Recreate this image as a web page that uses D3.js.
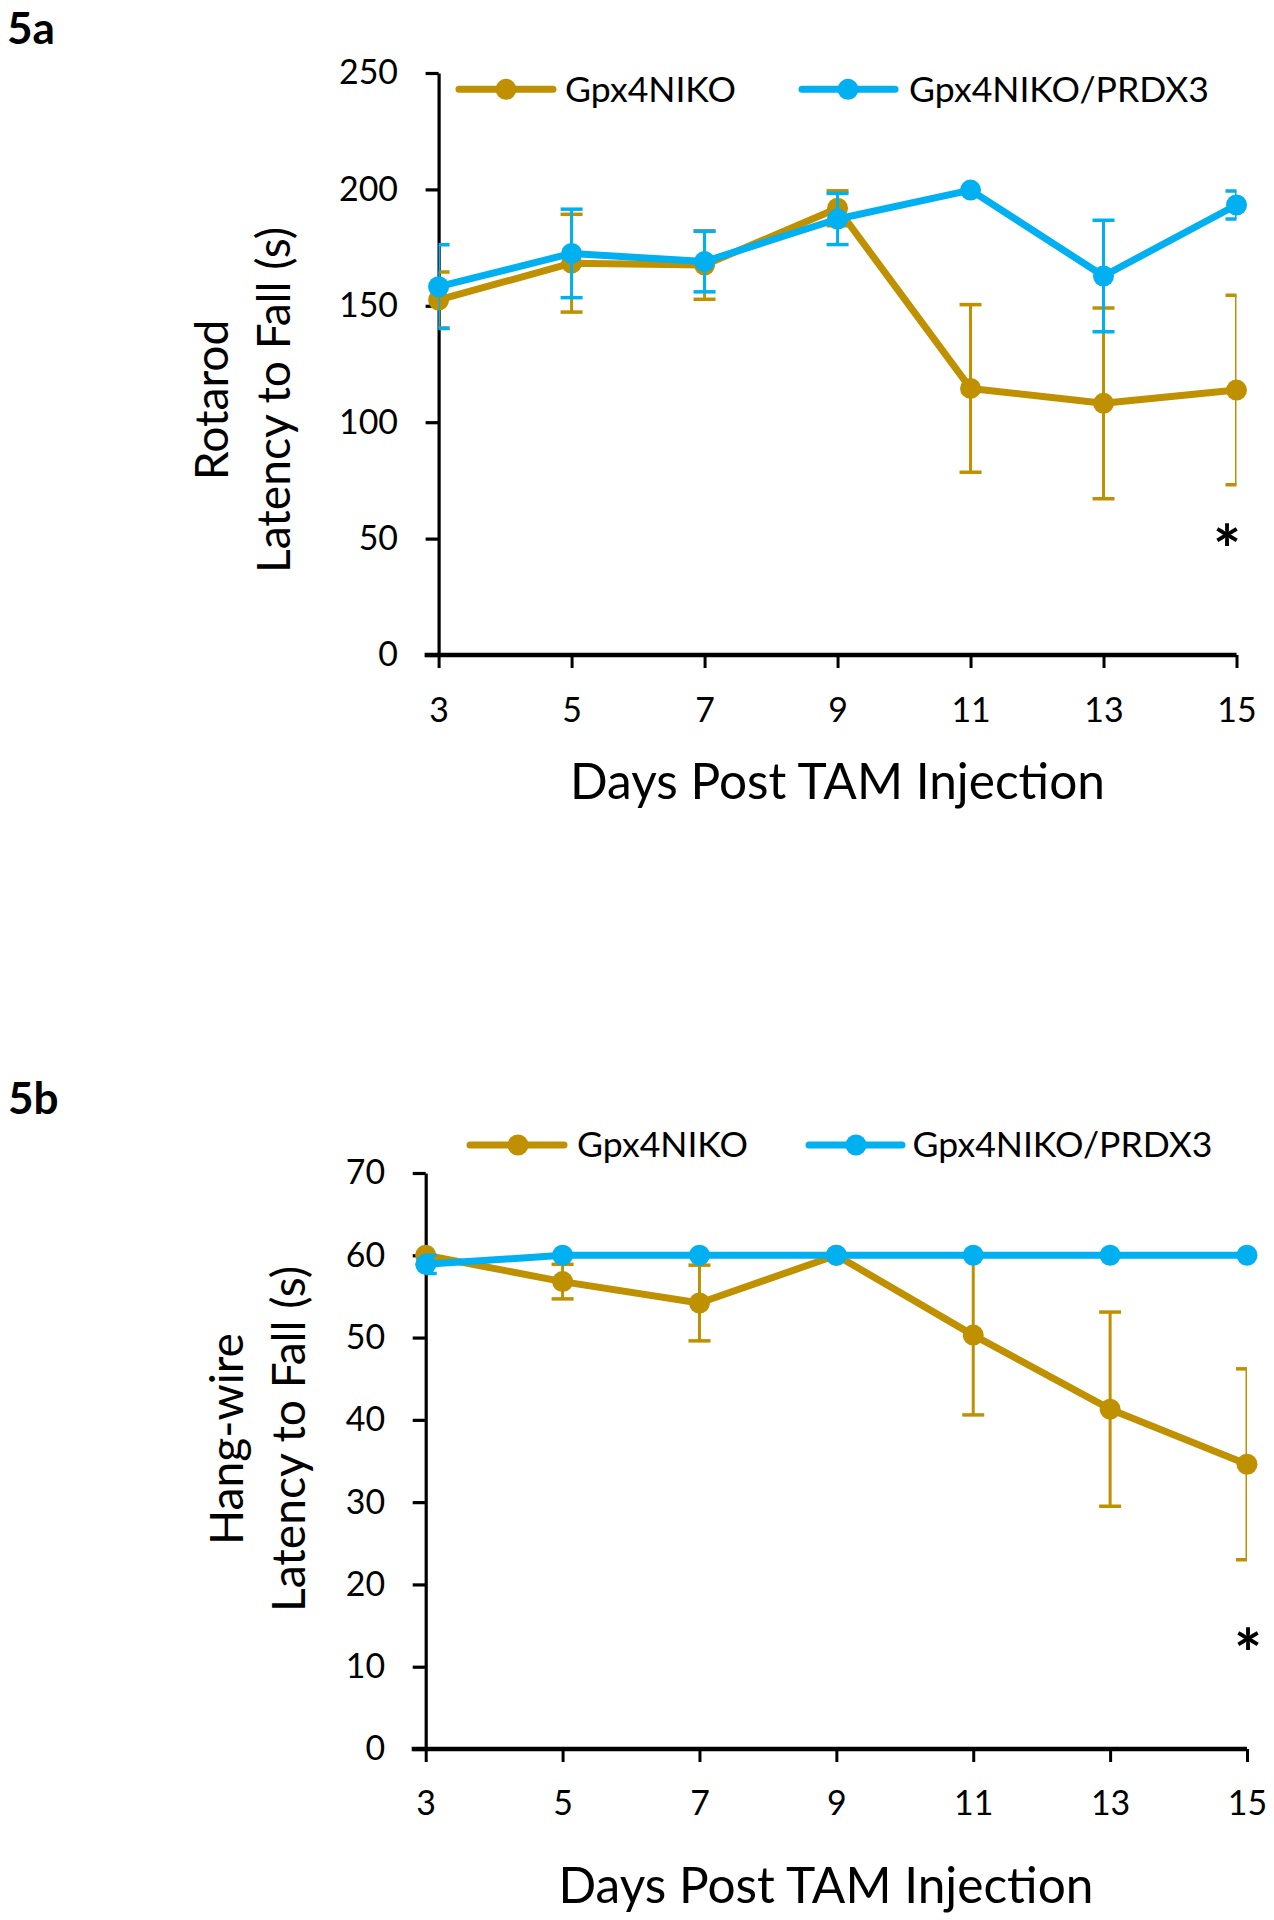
<!DOCTYPE html>
<html><head><meta charset="utf-8">
<script src="https://cdn.jsdelivr.net/npm/d3@7"></script>
<style>
body{margin:0;background:#fff}
svg{display:block}
text{font-family:Lato,"Open Sans",sans-serif;fill:#000}
</style>
</head><body>
<svg id="chart" width="1274" height="1920"></svg>
<script>
// ---------------- DATA ----------------
const days = [3, 5, 7, 9, 11, 13, 15];
const seriesNames = ["Gpx4NIKO", "Gpx4NIKO/PRDX3"];
const xTicks = [3, 5, 7, 9, 11, 13, 15];

// Panel 5a: Rotarod latency to fall (s)
const rotarodNIKO      = [152.5, 168.3, 167.5, 191.9, 114.5, 108.1, 113.8];
const rotarodNIKOErr   = [12, 21, 14.7, 7.5, 36, 41, 40.7];
const rotarodPRDX3     = [158.2, 172.5, 169.0, 187.3, 199.7, 162.8, 193.3];
const rotarodPRDX3Err  = [18, 19, 13, 11, 0, 24, 6];
const rotarodTicks     = [0, 50, 100, 150, 200, 250];

// Panel 5b: Hang-wire latency to fall (s)
const hangNIKO      = [60, 56.8, 54.2, 60, 50.3, 41.3, 34.6];
const hangNIKOErr   = [0, 2.1, 4.6, 0, 9.7, 11.8, 11.6];
const hangPRDX3     = [58.9, 60, 60, 60, 60, 60, 60];
const hangPRDX3Err  = [1.1, 0, 0, 0, 0, 0, 0];
const hangTicks     = [0, 10, 20, 30, 40, 50, 60, 70];

// ---------------- STYLE / LAYOUT ----------------
const colors = ["#BF9000", "#00B0F0"];
const svg = d3.select("#chart");

function fitSize(text, weight, target) {
  const t = svg.append("text").attr("font-size", 100).attr("font-weight", weight).text(text);
  const w = t.node().getComputedTextLength();
  t.remove();
  return 100 * target / w;
}
const tickFS   = fitSize("150", 400, 59);
const legendFS = fitSize("Gpx4NIKO/PRDX3", 400, 300);
const ytitleFS = fitSize("Latency to Fall (s)", 400, 346);
const xtitleFS = fitSize("Days Post TAM Injection", 400, 535);
const panelFS  = fitSize("5a", 700, 48);

const panels = [
  {
    id: "a", label: "5a", labelX: 7, labelY: 44,
    x0: 438.6, x1: 1236.5, yBottom: 655, yTop: 73, yMax: 250, ticks: rotarodTicks,
    series: [[rotarodNIKO, rotarodNIKOErr], [rotarodPRDX3, rotarodPRDX3Err]],
    tickLabelBaseline: 722,
    xTitleX: 837.5, xTitleY: 799,
    yTitle: ["Rotarod", "Latency to Fall (s)"], yTitleX: [228, 290], yTitleC: 400,
    legendY: 89.3, legend: [{l0: 459, l1: 553, dot: 506, tx: 565}, {l0: 802, l1: 895, dot: 848, tx: 909}],
    star: {x: 1227, y: 538}, lineW: 7
  },
  {
    id: "b", label: "5b", labelX: 8, labelY: 1114,
    x0: 425.7, x1: 1247, yBottom: 1749, yTop: 1173, yMax: 70, ticks: hangTicks,
    series: [[hangNIKO, hangNIKOErr], [hangPRDX3, hangPRDX3Err]],
    tickLabelBaseline: 1815,
    xTitleX: 826, xTitleY: 1903,
    yTitle: ["Hang-wire", "Latency to Fall (s)"], yTitleX: [243, 305], yTitleC: 1439,
    legendY: 1145, legend: [{l0: 470, l1: 564, dot: 518, tx: 577}, {l0: 809, l1: 902, dot: 856, tx: 912.5}],
    star: {x: 1248, y: 1642}, lineW: 7
  }
];

panels.forEach(p => {
  const g = svg.append("g");
  const x = d3.scaleLinear().domain([3, 15]).range([p.x0, p.x1]);
  const y = d3.scaleLinear().domain([0, p.yMax]).range([p.yBottom, p.yTop]);

  // panel label
  g.append("text").attr("x", p.labelX).attr("y", p.labelY)
    .attr("font-size", panelFS).attr("font-weight", 700).text(p.label);

  // y axis
  const yAxis = g.append("g").attr("transform", `translate(${p.x0},0)`)
    .call(d3.axisLeft(y).tickValues(p.ticks).tickSizeInner(13).tickSizeOuter(0).tickPadding(27.6).tickFormat(d3.format("d")));
  yAxis.select(".domain").attr("stroke", "#000").attr("stroke-width", 3.2);
  yAxis.selectAll(".tick line").attr("stroke", "#000").attr("stroke-width", 3.2);
  yAxis.selectAll(".tick text").attr("font-size", tickFS).attr("font-family", "Lato").attr("fill", "#000");

  // x axis
  const xAxis = g.append("g").attr("transform", `translate(0,${p.yBottom})`)
    .call(d3.axisBottom(x).tickValues(xTicks).tickSizeInner(13).tickSizeOuter(0).tickFormat(d3.format("d")));
  xAxis.select(".domain").attr("stroke", "#000").attr("stroke-width", 4.5)
    .attr("d", `M${p.x0 - 14},0H${p.x1}`);
  xAxis.selectAll(".tick line").attr("stroke", "#000").attr("stroke-width", 3);
  xAxis.selectAll(".tick text").attr("font-size", tickFS).attr("font-family", "Lato").attr("fill", "#000")
    .attr("dy", null).attr("y", p.tickLabelBaseline - p.yBottom);

  // axis titles
  g.append("text").attr("x", p.xTitleX).attr("y", p.xTitleY).attr("text-anchor", "middle")
    .attr("font-size", xtitleFS).text("Days Post TAM Injection");
  p.yTitle.forEach((t, i) => {
    g.append("text").attr("text-anchor", "middle").attr("font-size", ytitleFS)
      .attr("transform", `translate(${p.yTitleX[i]},${p.yTitleC}) rotate(-90)`).text(t);
  });

  // clip for error bars
  const clipId = "clip-" + p.id;
  svg.append("defs").append("clipPath").attr("id", clipId)
    .append("rect").attr("x", p.x0).attr("y", 0).attr("width", p.x1 - p.x0).attr("height", 1920);

  const line = d3.line().x(d => x(d.day)).y(d => y(d.v));
  p.series.forEach(([vals, errs], si) => {
    const data = days.map((d, i) => ({day: d, v: vals[i], e: errs[i]}));
    const col = colors[si];
    const eg = g.append("g").attr("clip-path", `url(#${clipId})`);
    data.filter(d => d.e > 0).forEach(d => {
      const cx = x(d.day), yt = y(d.v + d.e), yb = y(d.v - d.e);
      eg.append("line").attr("x1", cx).attr("x2", cx).attr("y1", yt).attr("y2", yb)
        .attr("stroke", col).attr("stroke-width", 3);
      [yt, yb].forEach(yy => eg.append("line").attr("x1", cx - 11).attr("x2", cx + 11)
        .attr("y1", yy).attr("y2", yy).attr("stroke", col).attr("stroke-width", 3.5));
    });
    g.append("path").datum(data).attr("d", line).attr("fill", "none").attr("stroke", col)
      .attr("stroke-width", p.lineW).attr("stroke-linejoin", "round").attr("stroke-linecap", "round");
    g.selectAll(null).data(data).enter().append("circle")
      .attr("cx", d => x(d.day)).attr("cy", d => y(d.v)).attr("r", 10.5).attr("fill", col);

    // legend
    const L = p.legend[si];
    g.append("line").attr("x1", L.l0).attr("x2", L.l1).attr("y1", p.legendY).attr("y2", p.legendY)
      .attr("stroke", col).attr("stroke-width", p.lineW).attr("stroke-linecap", "round");
    g.append("circle").attr("cx", L.dot).attr("cy", p.legendY).attr("r", 10.5).attr("fill", col);
    g.append("text").attr("x", L.tx).attr("y", p.legendY).attr("dy", "0.35em")
      .attr("font-size", legendFS).text(seriesNames[si]);
  });

  // significance star
  g.append("text").attr("x", p.star.x).attr("y", p.star.y).attr("text-anchor", "middle")
    .attr("dy", "0.55em").attr("font-size", 66).attr("font-weight", 700).text("*");
});
</script>
</body></html>
